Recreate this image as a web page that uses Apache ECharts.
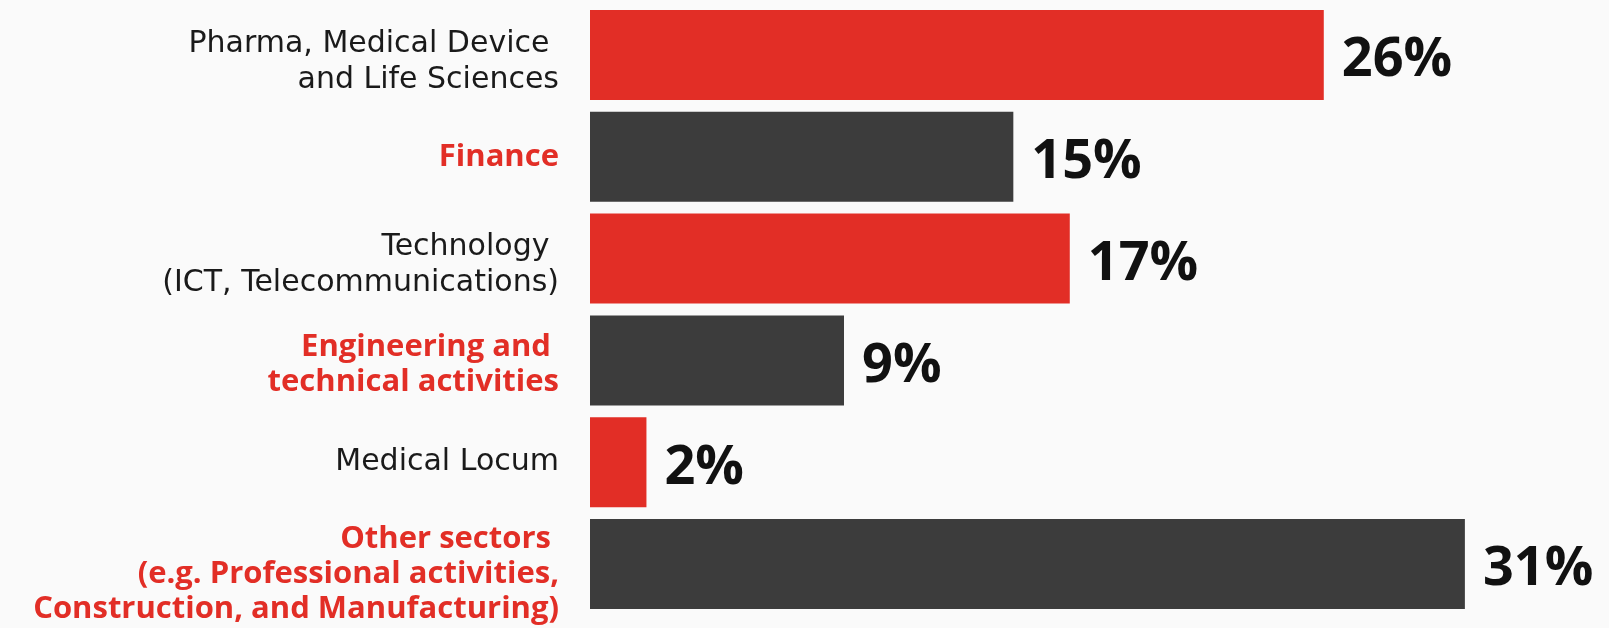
<!DOCTYPE html>
<html>
<head>
<meta charset="utf-8">
<script src="https://cdn.jsdelivr.net/npm/echarts@6/dist/echarts.min.js"></script>
<style>
html,body{margin:0;padding:0;background:#fafafa;}
#chart{width:1609px;height:628px;}
</style>
</head>
<body>
<div id="chart"></div>
<script>
const categories = [
  "Pharma, Medical Device \nand Life Sciences",
  "Finance",
  "Technology \n(ICT, Telecommunications)",
  "Engineering and \ntechnical activities",
  "Medical Locum",
  "Other sectors \n(e.g. Professional activities,\nConstruction, and Manufacturing)"
];
const values = [26, 15, 17, 9, 2, 31];
const highlighted = [false, true, false, true, false, true];

const RED = '#e22e26';
const DARK = '#3c3c3c';

const chart = echarts.init(document.getElementById('chart'));
chart.setOption({
  backgroundColor: '#fafafa',
  animation: false,
  grid: { left: 590, right: 3, top: 4, bottom: 13, containLabel: false },
  xAxis: { type: 'value', min: 0, max: 36, show: false },
  yAxis: {
    type: 'category',
    data: categories.map((c, i) => {
      const n = c.split('\n').length;
      const pad = n === 1 ? 0 : (n === 2 ? (highlighted[i] ? 8 : 14) : 20);
      return { value: c, textStyle: { padding: [pad, 0, 0, 0] } };
    }),
    inverse: true,
    axisLine: { show: false },
    axisTick: { show: false },
    splitLine: { show: false },
    axisLabel: {
      margin: 31,
      align: 'right',
      formatter: function (v, i) {
        const style = highlighted[i] ? 'b' : 'n';
        return v.split('\n').map(l => '{' + style + '|' + l + '}').join('\n');
      },
      rich: {
        n: { fontFamily: 'DejaVu Sans', fontSize: 30, color: '#1a1a1a', lineHeight: 36, align: 'right' },
        b: { fontFamily: 'Open Sans', fontSize: 31, fontWeight: 'bold', color: RED, lineHeight: 35, align: 'right' }
      }
    }
  },
  series: [{
    type: 'bar',
    data: values.map((v, i) => ({ value: v, itemStyle: { color: i % 2 === 0 ? RED : DARK } })),
    barWidth: 90,
    label: {
      show: true,
      position: 'right',
      distance: 18,
      offset: [0, 6],
      formatter: '{c}%',
      fontFamily: 'Open Sans',
      fontWeight: 'bold',
      fontSize: 54,
      color: '#111111'
    }
  }]
});
</script>
</body>
</html>
